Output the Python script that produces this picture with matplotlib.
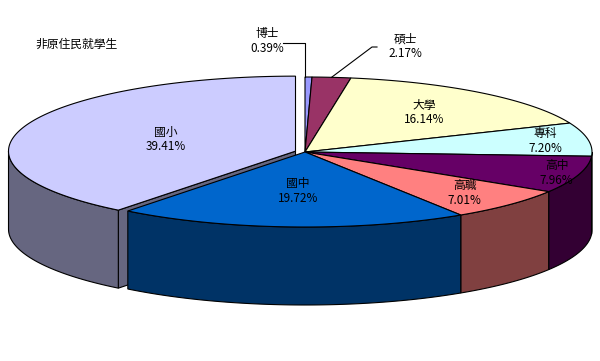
import numpy as np
import matplotlib.pyplot as plt
from matplotlib.patches import Polygon
from matplotlib.colors import to_rgb

plt.rcParams['font.family'] = ['Noto Sans CJK TC', 'DejaVu Sans']

# 資料
title = '非原住民就學生'
labels = ['博士', '碩士', '大學', '專科', '高中', '高職', '國中', '國小']
pct = [0.39, 2.17, 16.14, 7.20, 7.96, 7.01, 19.72, 39.41]
colors = ['#9999FF', '#993366', '#FFFFCC', '#CCFFFF', '#660066', '#FF8080', '#0066CC', '#CCCCFF']
explode = [0, 0, 0, 0, 0, 0, 0, 0.035]

# 版面 (pixel units)
cx, cy = 305, 152
ra, rb = 287, 75
depth = 78
label_r = [0, 0, 0.67, 0.85, 0.92, 0.78, 0.52, 0.48]
outside_pos = {'博士': (267, 41), '碩士': (405, 46)}

fig = plt.figure(figsize=(6, 3.61), dpi=100)
ax = fig.add_axes([0, 0, 1, 1])
ax.set_xlim(0, 600)
ax.set_ylim(361, 0)
ax.axis('off')

total = sum(pct)
ang = np.concatenate([[0], np.cumsum(pct)]) / total * 360.0


def pt(th, ox, oy, r=1.0):
    t = np.radians(th)
    return ox + r * ra * np.sin(t), oy - r * rb * np.cos(t)


def arc(t1, t2, ox, oy, dz=0):
    ts = np.linspace(t1, t2, max(int(abs(t2 - t1)) + 2, 2))
    x, y = pt(ts, ox, oy)
    return np.column_stack([x, y + dz])


def dark(c):
    return tuple(v * 0.5 for v in to_rgb(c))


# 每片的中心
centers = []
for i in range(len(pct)):
    mid = (ang[i] + ang[i + 1]) / 2
    ox, oy = pt(mid, cx, cy, explode[i])
    centers.append((ox, oy))

# 切面
for i in range(len(pct)):
    if explode[i] == 0:
        continue
    ox, oy = centers[i]
    for th, vis in [(ang[i], np.sin(np.radians(ang[i])) < -1e-6),
                    (ang[i + 1], np.sin(np.radians(ang[i + 1])) > 1e-6)]:
        if not vis:
            continue
        rx, ry = pt(th, ox, oy)
        poly = [(ox, oy), (rx, ry), (rx, ry + depth), (ox, oy + depth)]
        ax.add_patch(Polygon(poly, closed=True, fc=dark(colors[i]), ec='black', lw=0.8))

# 側面
for i in range(len(pct)):
    t1 = max(ang[i], 90)
    t2 = min(ang[i + 1], 270)
    if t2 <= t1:
        continue
    ox, oy = centers[i]
    top = arc(t1, t2, ox, oy)
    bot = arc(t1, t2, ox, oy, depth)[::-1]
    ax.add_patch(Polygon(np.vstack([top, bot]), closed=True, fc=dark(colors[i]),
                         ec='black', lw=0.8))

# 頂面
for i in range(len(pct)):
    ox, oy = centers[i]
    poly = np.vstack([[(ox, oy)], arc(ang[i], ang[i + 1], ox, oy)])
    ax.add_patch(Polygon(poly, closed=True, fc=colors[i], ec='black', lw=0.8))

# 標籤
for i in range(len(pct)):
    txt = '%s\n%.2f%%' % (labels[i], pct[i])
    mid = (ang[i] + ang[i + 1]) / 2
    ox, oy = centers[i]
    if labels[i] in outside_pos:
        lx, ly = outside_pos[labels[i]]
        rx, ry = pt(mid, ox, oy)
        if lx < rx - 40:
            ax.plot([lx + 16, rx - 4, rx - 4], [ly + 2, ly + 2, ry], color='black', lw=0.8)
        else:
            ax.plot([rx, lx - 33, lx - 28], [ry, ly + 1, ly + 1], color='black', lw=0.8)
    else:
        lx, ly = pt(mid, ox, oy, label_r[i])
    ax.text(lx, ly, txt, ha='center', va='center', fontsize=8.5, linespacing=1.15)

ax.text(35, 44, title, ha='left', va='center', fontsize=8.5)

fig.savefig('out.png', dpi=100)
